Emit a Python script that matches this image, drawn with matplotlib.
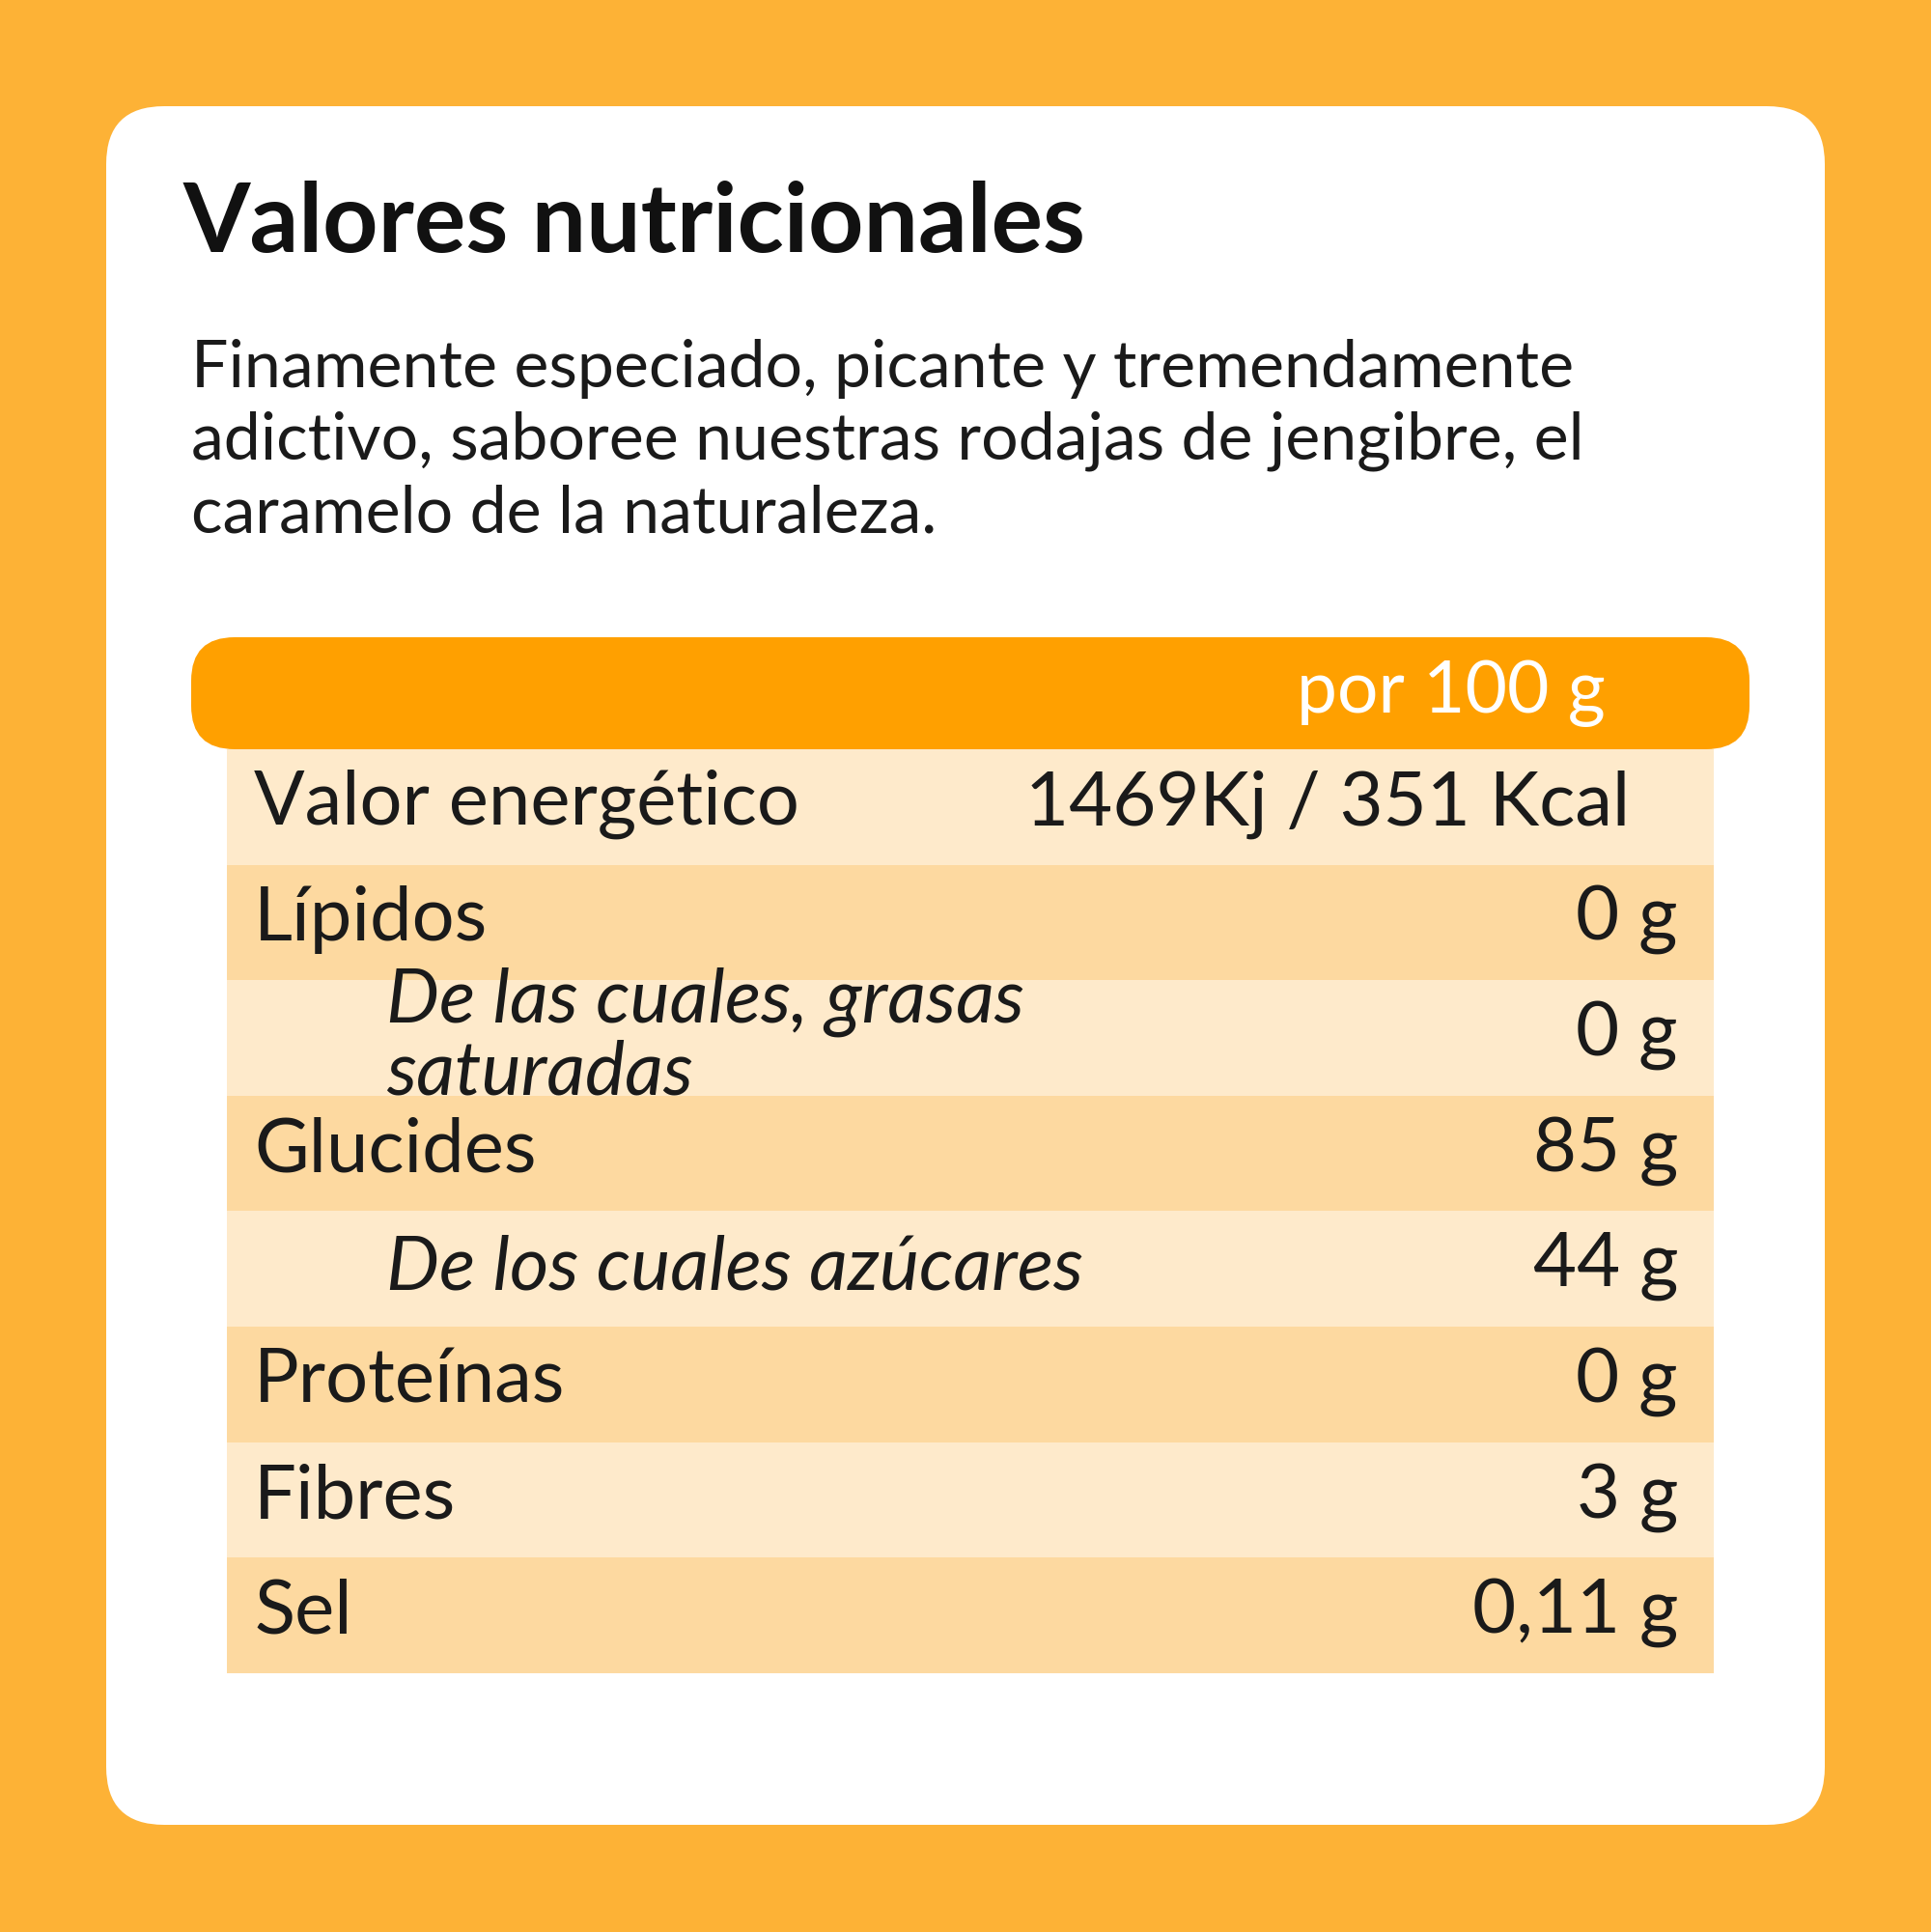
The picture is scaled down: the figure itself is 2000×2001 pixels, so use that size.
import matplotlib
matplotlib.use("Agg")
import matplotlib.pyplot as plt
from matplotlib.patches import FancyBboxPatch, Rectangle

title = "Valores nutricionales"
description = ["Finamente especiado, picante y tremendamente",
               "adictivo, saboree nuestras rodajas de jengibre, el",
               "caramelo de la naturaleza."]
header = "por 100 g"
labels = ["Valor energético", "Lípidos", "De las cuales, grasas\nsaturadas", "Glucides",
          "De los cuales azúcares", "Proteínas", "Fibres", "Sel"]
values = ["1469Kj / 351 Kcal", "0 g", "0 g", "85 g", "44 g", "0 g", "3 g", "0,11 g"]
sub_rows = [False, False, True, False, True, False, False, False]

FONT = "Lato"
fig = plt.figure(figsize=(20, 20.01), dpi=100)
ax = fig.add_axes([0, 0, 1, 1])
ax.set_xlim(0, 2000); ax.set_ylim(2001, 0); ax.axis("off")
fig.patch.set_facecolor("#FDB236")

ax.add_patch(FancyBboxPatch((110, 110), 1780, 1780,
                            boxstyle="round,pad=0,rounding_size=60", fc="white", ec="none"))

ax.text(190, 232, title, fontsize=72, fontweight="bold", family=FONT, va="center", color="#111111")
for i, line in enumerate(description):
    ax.text(198, 382 + i * 75, line, fontsize=49, family=FONT, va="center", color="#1a1a1a")

top, bottom = 776, 1733
n = len(labels)
h = (bottom - top) / n
for i, (lab, val, sub) in enumerate(zip(labels, values, sub_rows)):
    y0 = top + i * h
    ax.add_patch(Rectangle((235, y0), 1540, h, fc="#FEEACB" if i % 2 == 0 else "#FDD9A0", ec="none"))
    yc = y0 + h / 2 - 3
    if sub:
        ax.text(400, yc + 2, lab, fontsize=56, family=FONT, style="italic", va="center",
                color="#1a1a1a", linespacing=1.05)
    else:
        ax.text(263, yc, lab, fontsize=56, family=FONT, va="center", color="#1a1a1a")
    xr = 1688 if i == 0 else 1738
    ax.text(xr, yc, val, fontsize=56, family=FONT, va="center", ha="right", color="#1a1a1a")

ax.add_patch(FancyBboxPatch((198, 660), 1614, 116,
                            boxstyle="round,pad=0,rounding_size=45", fc="#FFA000", ec="none"))
ax.text(1503, 718, header, fontsize=54, family=FONT, va="center", ha="center", color="white")

fig.savefig("out.png", dpi=100, facecolor=fig.get_facecolor())
